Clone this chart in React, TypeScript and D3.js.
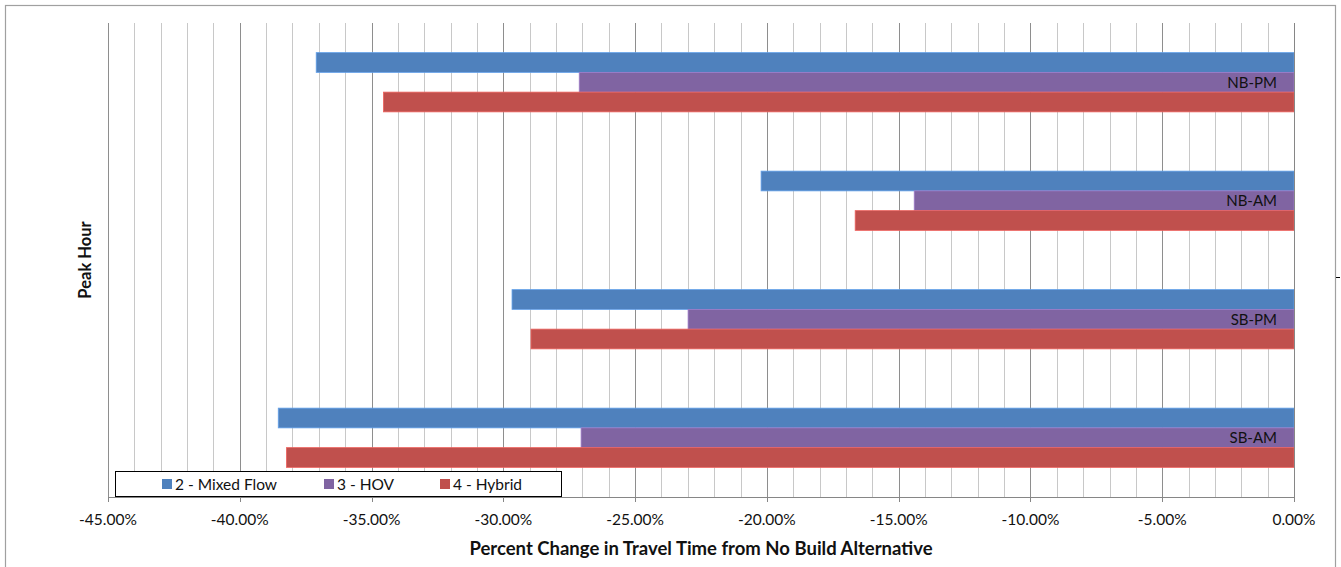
import React from 'react';
import * as d3 from 'd3';

const categories = ['NB-PM', 'NB-AM', 'SB-PM', 'SB-AM'];
const seriesNames = ['2 - Mixed Flow', '3 - HOV', '4 - Hybrid'];
const mixedFlow = [-37.1, -20.22, -29.67, -38.54];
const hov = [-27.12, -14.41, -22.99, -27.05];
const hybrid = [-34.55, -16.65, -28.95, -38.23];
const tickValues = [-45, -40, -35, -30, -25, -20, -15, -10, -5, 0];
const colors = ['#4F81BD', '#8064A2', '#C0504D'];

const W = 1341;
const H = 567;
const FONT = 'Lato, Carlito, Calibri, sans-serif';

export default function App() {
  const left = 108, right = 1294, top = 23, bottom = 497;
  const x = d3.scaleLinear().domain([-45, 0]).range([left, right]);
  const y = d3.scaleBand<string>().domain(categories).range([top, bottom]).paddingInner(0.5).paddingOuter(0.25);
  const ys = d3.scaleBand<number>().domain([0, 1, 2]).range([0, y.bandwidth()]).padding(0);
  const seriesValues = [mixedFlow, hov, hybrid];
  const gridVals = d3.range(-45, 1, 1);

  const legendItems = [
    { sx: 162, tx: 175 },
    { sx: 324, tx: 337 },
    { sx: 440, tx: 453 },
  ];

  return (
    <svg width={W} height={H} style={{ position: 'absolute', left: 0, top: 0, background: '#fff' }} fontFamily={FONT}>
      <rect x={5.5} y={5.5} width={1330} height={570} fill="#fff" stroke="#a0a0a0" strokeWidth={1.2} />
      {/* gridlines */}
      {gridVals.filter(v => v !== 0).map(v => {
        const major = v % 5 === 0;
        return (
          <line key={v} x1={Math.round(x(v)) + 0.5} x2={Math.round(x(v)) + 0.5} y1={top} y2={bottom}
            stroke={major ? '#8e8e8e' : '#c8c8c8'} strokeWidth={1} />
        );
      })}
      {/* bars */}
      {categories.map((c, ci) => (
        <g key={c}>
          {seriesValues.map((vals, si) => {
            const v = vals[ci];
            const y0 = (y(c) as number) + (ys(si) as number);
            return (
              <rect key={si} x={x(v)} y={y0} width={x(0) - x(v)} height={ys.bandwidth()}
                fill={colors[si]} stroke={d3.color(colors[si])!.brighter(0.6).formatHex()} strokeWidth={0.8} />
            );
          })}
          <text x={x(0) - 17} y={(y(c) as number) + (ys(1) as number) + ys.bandwidth() / 2}
            dy="0.35em" textAnchor="end" fontSize={15} fill="#111">{c}</text>
        </g>
      ))}
      {/* vertical axis at 0 */}
      <line x1={Math.round(x(0)) + 0.5} x2={Math.round(x(0)) + 0.5} y1={top} y2={bottom + 5} stroke="#868686" strokeWidth={1} />
      {/* bottom axis */}
      <line x1={left} x2={right} y1={bottom + 0.5} y2={bottom + 0.5} stroke="#868686" strokeWidth={1} />
      {tickValues.map(v => (
        <g key={v}>
          <line x1={Math.round(x(v)) + 0.5} x2={Math.round(x(v)) + 0.5} y1={bottom} y2={bottom + 5} stroke="#868686" />
          <text x={x(v)} y={525} textAnchor="middle" fontSize={15.5} fill="#111">{`${v.toFixed(2)}%`}</text>
        </g>
      ))}
      {/* axis titles */}
      <text x={701} y={555} textAnchor="middle" fontSize={18.5} fontWeight="bold" fill="#111">
        Percent Change in Travel Time from No Build Alternative
      </text>
      <text transform={`translate(91,${(top + bottom) / 2}) rotate(-90)`} textAnchor="middle" fontSize={16.5} fontWeight="bold" fill="#111">
        Peak Hour
      </text>
      {/* legend */}
      <rect x={115.5} y={471.5} width={446} height={25} fill="#fff" stroke="#000" strokeWidth={1} />
      {seriesNames.map((s, i) => (
        <g key={s}>
          <rect x={legendItems[i].sx} y={479} width={10} height={10} fill={colors[i]} />
          <text x={legendItems[i].tx} y={490} fontSize={15.5} fill="#111">{s}</text>
        </g>
      ))}
      {/* small mark at right */}
      <line x1={1336} x2={1340} y1={277.5} y2={277.5} stroke="#000" strokeWidth={1} />
    </svg>
  );
}
